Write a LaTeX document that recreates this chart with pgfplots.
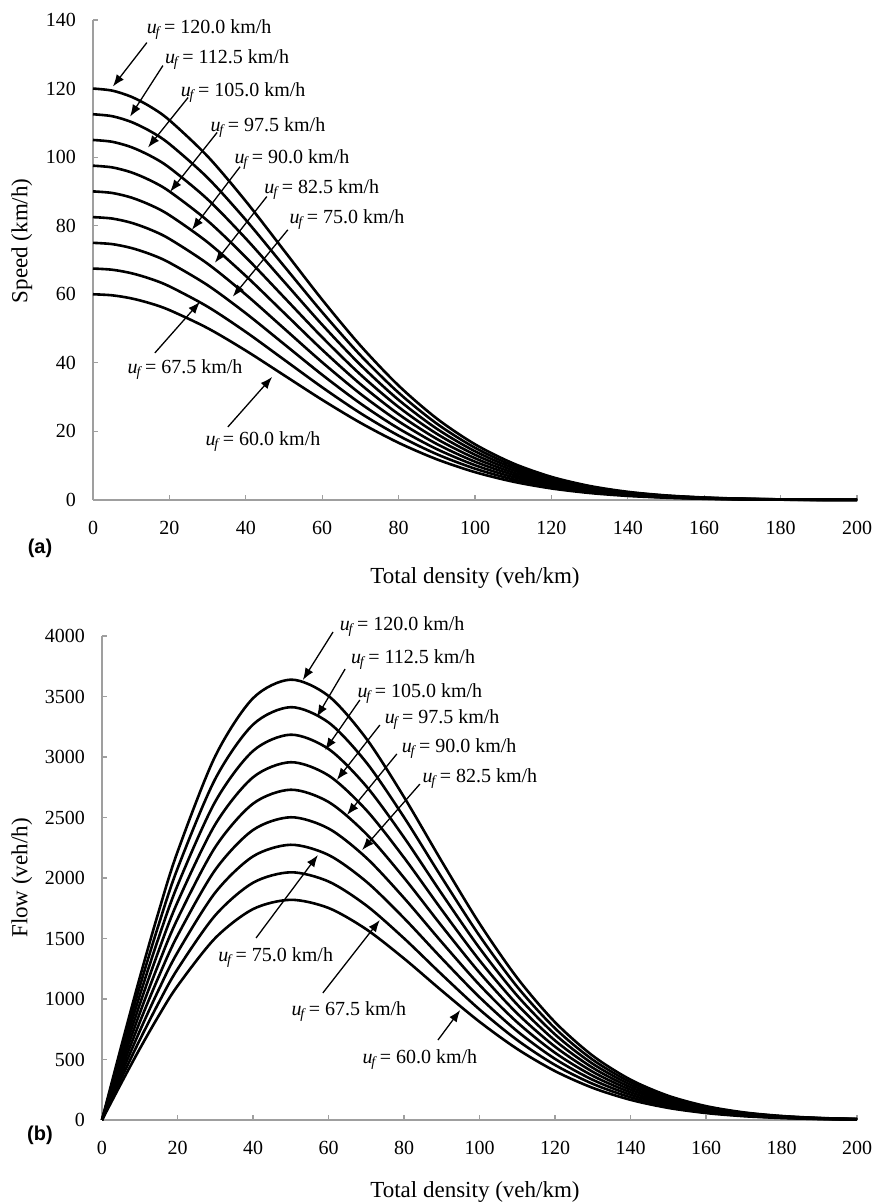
\documentclass[border=0pt]{standalone}
\usepackage{pgfplots}
\pgfplotsset{compat=1.18}
\usepackage{pgfplotstable}
\usetikzlibrary{arrows.meta}
\usepackage{fontspec}
\setmainfont{Liberation Serif}
\newfontfamily\panelfont{Liberation Sans}

% speed (km/h) against density, one column per free-flow speed
\pgfplotstableread{
k u600 u675 u750 u825 u900 u975 u1050 u1125 u1200
0 60.00 67.50 75.00 82.50 90.00 97.50 105.00 112.50 120.00
5 59.70 67.16 74.63 82.09 89.55 97.01 104.48 111.94 119.40
10 58.81 66.16 73.51 80.87 88.22 95.57 102.92 110.27 117.62
15 57.36 64.53 71.70 78.87 86.04 93.21 100.38 107.55 114.72
20 55.39 62.31 69.23 76.16 83.08 90.00 96.93 103.85 110.77
30 50.12 56.38 62.65 68.91 75.17 81.44 87.70 93.97 100.23
40 43.57 49.02 54.46 59.91 65.35 70.80 76.25 81.69 87.14
50 36.39 40.94 45.49 50.04 54.59 59.14 63.69 68.23 72.78
60 29.21 32.86 36.51 40.16 43.81 47.46 51.11 54.76 58.41
70 22.52 25.33 28.15 30.96 33.78 36.59 39.41 42.22 45.04
80 16.68 18.77 20.85 22.94 25.02 27.11 29.19 31.28 33.36
90 11.87 13.36 14.84 16.33 17.81 19.30 20.78 22.26 23.75
100 8.12 9.14 10.15 11.17 12.18 13.20 14.21 15.23 16.24
110 5.34 6.00 6.67 7.34 8.00 8.67 9.34 10.00 10.67
120 3.37 3.79 4.21 4.63 5.05 5.47 5.89 6.32 6.74
130 2.04 2.30 2.55 2.81 3.06 3.32 3.57 3.83 4.09
140 1.19 1.34 1.49 1.64 1.79 1.93 2.08 2.23 2.38
150 0.67 0.75 0.83 0.92 1.00 1.08 1.17 1.25 1.33
160 0.36 0.40 0.45 0.49 0.54 0.58 0.63 0.67 0.72
170 0.19 0.21 0.23 0.25 0.28 0.30 0.32 0.35 0.37
180 0.09 0.10 0.12 0.13 0.14 0.15 0.16 0.17 0.18
190 0.04 0.05 0.05 0.06 0.07 0.07 0.08 0.08 0.09
200 0.02 0.02 0.03 0.03 0.03 0.03 0.04 0.04 0.04
}\speedtab

% flow (veh/h) against density
\pgfplotstableread{
k q600 q675 q750 q825 q900 q975 q1050 q1125 q1200
0 0 0 0 0 0 0 0 0 0
5 298.5 335.8 373.1 410.4 447.8 485.1 522.4 559.7 597.0
10 588.1 661.6 735.1 808.7 882.2 955.7 1029.2 1102.7 1176.2
15 860.4 968.0 1075.5 1183.1 1290.6 1398.2 1505.7 1613.2 1720.8
20 1107.7 1246.2 1384.7 1523.1 1661.6 1800.1 1938.5 2077.0 2215.5
30 1503.5 1691.4 1879.4 2067.3 2255.2 2443.2 2631.1 2819.0 3007.0
40 1742.8 1960.6 2178.4 2396.3 2614.1 2832.0 3049.8 3267.7 3485.5
50 1819.6 2047.0 2274.5 2501.9 2729.4 2956.8 3184.3 3411.7 3639.2
60 1752.3 1971.3 2190.4 2409.4 2628.5 2847.5 3066.5 3285.6 3504.6
70 1576.3 1773.4 1970.4 2167.4 2364.5 2561.5 2758.5 2955.6 3152.6
80 1334.6 1501.4 1668.2 1835.0 2001.9 2168.7 2335.5 2502.3 2669.2
90 1068.7 1202.2 1335.8 1469.4 1603.0 1736.6 1870.1 2003.7 2137.3
100 812.0 913.5 1015.0 1116.5 1218.0 1319.5 1421.0 1522.5 1624.0
110 586.9 660.2 733.6 807.0 880.3 953.7 1027.0 1100.4 1173.8
120 404.2 454.7 505.2 555.7 606.3 656.8 707.3 757.8 808.3
130 265.6 298.8 332.0 365.2 398.4 431.5 464.7 497.9 531.1
140 166.7 187.5 208.3 229.2 250.0 270.8 291.7 312.5 333.3
150 100.0 112.5 125.0 137.5 150.0 162.5 175.0 187.5 200.0
160 57.4 64.5 71.7 78.9 86.1 93.2 100.4 107.6 114.7
170 31.5 35.4 39.4 43.3 47.2 51.2 55.1 59.1 63.0
180 16.6 18.6 20.7 22.8 24.9 26.9 29.0 31.1 33.1
190 8.3 9.4 10.4 11.5 12.5 13.6 14.6 15.6 16.7
200 4.0 4.5 5.0 5.5 6.0 6.5 7.0 7.5 8.0
}\flowtab

\newcommand{\uf}{\textit{u}\textsubscript{\kern-0.6pt\textit{f}}\kern1pt}

\pgfplotsset{
  trafficaxis/.style={
    scale only axis,
    axis lines=left,
    axis line style={-, gray!75, line width=0.7pt},
    xmin=0, xmax=200, xtick={0,20,...,200},
    tick align=inside,
    major tick length=2.5pt,
    tick style={gray!75, line width=0.6pt},
    ticklabel style={font=\fontsize{10}{12}\selectfont},
    xticklabel style={yshift=-7pt},
    yticklabel style={xshift=-5pt},
    /pgf/number format/assume math mode=true,
    /pgf/number format/1000 sep={},
    label style={font=\fontsize{11.5}{13}\selectfont},
    clip=false,
  },
}
\tikzset{
  curve/.style={black, line width=1.3pt, smooth},
  pointer/.style={-{Latex[length=6pt,width=4.5pt]}, line width=0.65pt, black},
  note/.style={font=\fontsize{10}{12}\selectfont, inner sep=1pt},
}

\begin{document}
\begin{tikzpicture}
\useasboundingbox (0,0) rectangle (438pt,601.5pt);

% (a) speed
\begin{axis}[trafficaxis,
  at={(46.5pt,351.5pt)}, anchor=south west,
  width=382pt, height=240pt,
  ymin=0, ymax=140, ytick={0,20,...,140},
  xlabel={Total density (veh/km)},
  ylabel={Speed (km/h)},
  xlabel style={at={(axis description cs:0.5,-0.1625)}, anchor=center},
  ylabel style={at={(axis description cs:-0.093,0.54)}, anchor=center},
]
\foreach \c in {u600,u675,u750,u825,u900,u975,u1050,u1125,u1200}{
  \addplot[curve] table[x=k, y=\c] {\speedtab};
}
\draw[pointer] (axis cs:14.1,133.4) -- (axis cs:5.2,120.6);
\node[note] at (axis cs:30.4,137.2) {\uf= 120.0 km/h};
\draw[pointer] (axis cs:18.3,126.7) -- (axis cs:9.7,111.8);
\node[note] at (axis cs:35.1,128.5) {\uf= 112.5 km/h};
\draw[pointer] (axis cs:24.9,117.4) -- (axis cs:14.4,102.8);
\node[note] at (axis cs:39.3,118.8) {\uf= 105.0 km/h};
\draw[pointer] (axis cs:32.5,107.2) -- (axis cs:20.2,89.9);
\node[note] at (axis cs:45.8,108.6) {\uf= 97.5 km/h};
\draw[pointer] (axis cs:38.5,97.2) -- (axis cs:25.9,78.8);
\node[note] at (axis cs:52.1,99.3) {\uf= 90.0 km/h};
\draw[pointer] (axis cs:45.5,88.5) -- (axis cs:31.9,69.2);
\node[note] at (axis cs:59.9,90.5) {\uf= 82.5 km/h};
\draw[pointer] (axis cs:51.0,78.8) -- (axis cs:36.6,59.3);
\node[note] at (axis cs:66.5,81.8) {\uf= 75.0 km/h};
\draw[pointer] (axis cs:16.2,42.9) -- (axis cs:28.0,57.8);
\node[note] at (axis cs:24.1,38.0) {\uf= 67.5 km/h};
\draw[pointer] (axis cs:35.3,21.3) -- (axis cs:46.9,35.9);
\node[note] at (axis cs:44.5,16.9) {\uf= 60.0 km/h};
\end{axis}
\node[font=\panelfont\bfseries\fontsize{10}{12}\selectfont] at (20pt,327.5pt) {(a)};

% (b) flow
\begin{axis}[trafficaxis,
  at={(51pt,41.5pt)}, anchor=south west,
  width=377.5pt, height=242pt,
  ymin=0, ymax=4000, ytick={0,500,...,4000},
  xlabel={Total density (veh/km)},
  ylabel={Flow (veh/h)},
  xlabel style={at={(axis description cs:0.494,-0.149)}, anchor=center},
  ylabel style={at={(axis description cs:-0.106,0.5)}, anchor=center},
]
\foreach \c in {q600,q675,q750,q825,q900,q975,q1050,q1125,q1200}{
  \addplot[curve] table[x=k, y=\c] {\flowtab};
}
\draw[pointer] (axis cs:61.2,4033) -- (axis cs:53.2,3636);
\node[note] at (axis cs:79.5,4074) {\uf= 120.0 km/h};
\draw[pointer] (axis cs:64.4,3727) -- (axis cs:56.9,3330);
\node[note] at (axis cs:82.4,3802) {\uf= 112.5 km/h};
\draw[pointer] (axis cs:68.3,3471) -- (axis cs:59.1,3058);
\node[note] at (axis cs:84.2,3521) {\uf= 105.0 km/h};
\draw[pointer] (axis cs:73.6,3264) -- (axis cs:62.2,2810);
\node[note] at (axis cs:90.1,3306) {\uf= 97.5 km/h};
\draw[pointer] (axis cs:78.1,3025) -- (axis cs:64.9,2521);
\node[note] at (axis cs:94.6,3066) {\uf= 90.0 km/h};
\draw[pointer] (axis cs:84.2,2776) -- (axis cs:68.9,2231);
\node[note] at (axis cs:100.1,2818) {\uf= 82.5 km/h};
\draw[pointer] (axis cs:40.8,1504) -- (axis cs:57.2,2190);
\node[note] at (axis cs:46.0,1339) {\uf= 75.0 km/h};
\draw[pointer] (axis cs:58.5,1050) -- (axis cs:73.6,1653);
\node[note] at (axis cs:65.4,893) {\uf= 67.5 km/h};
\draw[pointer] (axis cs:89.0,661) -- (axis cs:94.9,909);
\node[note] at (axis cs:84.2,496) {\uf= 60.0 km/h};
\end{axis}
\node[font=\panelfont\bfseries\fontsize{10}{12}\selectfont] at (20pt,34pt) {(b)};
\end{tikzpicture}
\end{document}
